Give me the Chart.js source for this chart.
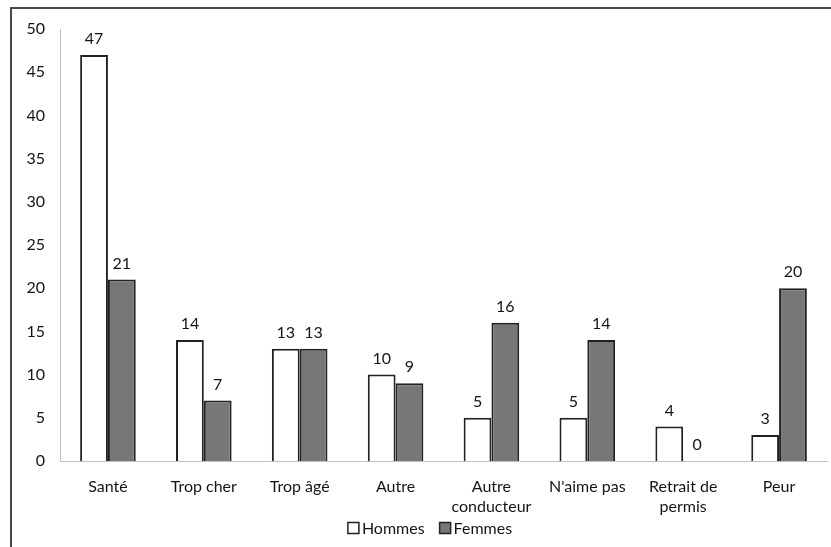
<!DOCTYPE html>
<html>
<head>
<meta charset="utf-8">
<script src="https://cdn.jsdelivr.net/npm/chart.js@4.4.0/dist/chart.umd.min.js"></script>
<style>
html,body{margin:0;padding:0;background:#fff;}
#wrap{position:absolute;left:0;top:0;width:831px;height:547px;}
</style>
</head>
<body>
<div id="wrap"><canvas id="c" width="831" height="547"></canvas></div>
<script>
const categories = ["Santé", "Trop cher", "Trop âgé", "Autre", ["Autre", "conducteur"], "N'aime pas", ["Retrait de", "permis"], "Peur"];
const hommes = [47, 14, 13, 10, 5, 5, 4, 3];
const femmes = [21, 7, 13, 9, 16, 14, 0, 20];
const yTicks = [0, 5, 10, 15, 20, 25, 30, 35, 40, 45, 50];

const FONT = "Lato, 'Open Sans', sans-serif";
const FS = 16;
const TXT = '#151515';

const framePlugin = {
  id: 'frame',
  beforeDraw(chart) {
    const ctx = chart.ctx;
    ctx.save();
    ctx.fillStyle = '#fff';
    ctx.fillRect(0, 0, chart.width, chart.height);
    ctx.strokeStyle = '#4a4a4a';
    ctx.lineWidth = 2;
    ctx.beginPath();
    ctx.moveTo(11, chart.height);
    ctx.lineTo(11, 8);
    ctx.lineTo(chart.width, 8);
    ctx.stroke();
    ctx.restore();
  }
};

const labelPlugin = {
  id: 'valueLabels',
  afterDatasetsDraw(chart) {
    const ctx = chart.ctx;
    ctx.save();
    ctx.font = FS + "px " + FONT;
    ctx.fillStyle = TXT;
    ctx.textAlign = 'center';
    ctx.textBaseline = 'bottom';
    chart.data.datasets.forEach((ds, i) => {
      const meta = chart.getDatasetMeta(i);
      meta.data.forEach((bar, j) => {
        ctx.fillText(String(ds.data[j]), bar.x, bar.y - 8);
      });
    });
    ctx.restore();
  }
};

const legendPlugin = {
  id: 'customLegend',
  afterDraw(chart) {
    const ctx = chart.ctx;
    ctx.save();
    ctx.font = FS + "px " + FONT;
    ctx.textBaseline = 'middle';
    ctx.textAlign = 'left';
    const box = 11, gapText = 3, gapItem = 15;
    const items = chart.data.datasets.map(ds => ({ ds, w: box + gapText + ctx.measureText(ds.label).width }));
    const total = items.reduce((s, it) => s + it.w, 0) + gapItem * (items.length - 1);
    let x = 430 - total / 2;
    const y = 528;
    items.forEach(it => {
      ctx.fillStyle = it.ds.backgroundColor;
      ctx.fillRect(x, y - box / 2, box, box);
      ctx.strokeStyle = it.ds.borderColor;
      ctx.lineWidth = 1.5;
      ctx.strokeRect(x, y - box / 2, box, box);
      ctx.fillStyle = TXT;
      ctx.fillText(it.ds.label, x + box + gapText, y + 1);
      x += it.w + gapItem;
    });
    ctx.restore();
  }
};

new Chart(document.getElementById('c'), {
  type: 'bar',
  data: {
    labels: categories,
    datasets: [
      { label: 'Hommes', data: hommes, backgroundColor: '#ffffff', borderColor: '#222222', borderWidth: 2 },
      { label: 'Femmes', data: femmes, backgroundColor: '#777777', borderColor: '#222222', borderWidth: 2 }
    ]
  },
  options: {
    responsive: false,
    animation: false,
    devicePixelRatio: 1,
    layout: { padding: { left: 0, right: 4, top: 29, bottom: 0 } },
    datasets: { bar: { categoryPercentage: 0.58, barPercentage: 1.0 } },
    plugins: {
      legend: { display: false },
      tooltip: { enabled: false }
    },
    scales: {
      x: {
        afterFit(scale) { scale.height = 86; },
        grid: { display: false, drawTicks: false },
        border: { color: '#c0c0c0', width: 1 },
        ticks: { font: { family: FONT, size: FS, lineHeight: 1.25 }, color: TXT, padding: 16, maxRotation: 0, autoSkip: false }
      },
      y: {
        min: 0, max: 50,
        afterFit(scale) { scale.width = 60; },
        afterBuildTicks(scale) { scale.ticks = yTicks.map(v => ({ value: v })); },
        grid: { display: false, drawTicks: false },
        border: { color: '#c0c0c0', width: 1 },
        ticks: { font: { family: FONT, size: FS }, color: TXT, padding: 15 }
      }
    }
  },
  plugins: [framePlugin, labelPlugin, legendPlugin]
});
</script>
</body>
</html>
